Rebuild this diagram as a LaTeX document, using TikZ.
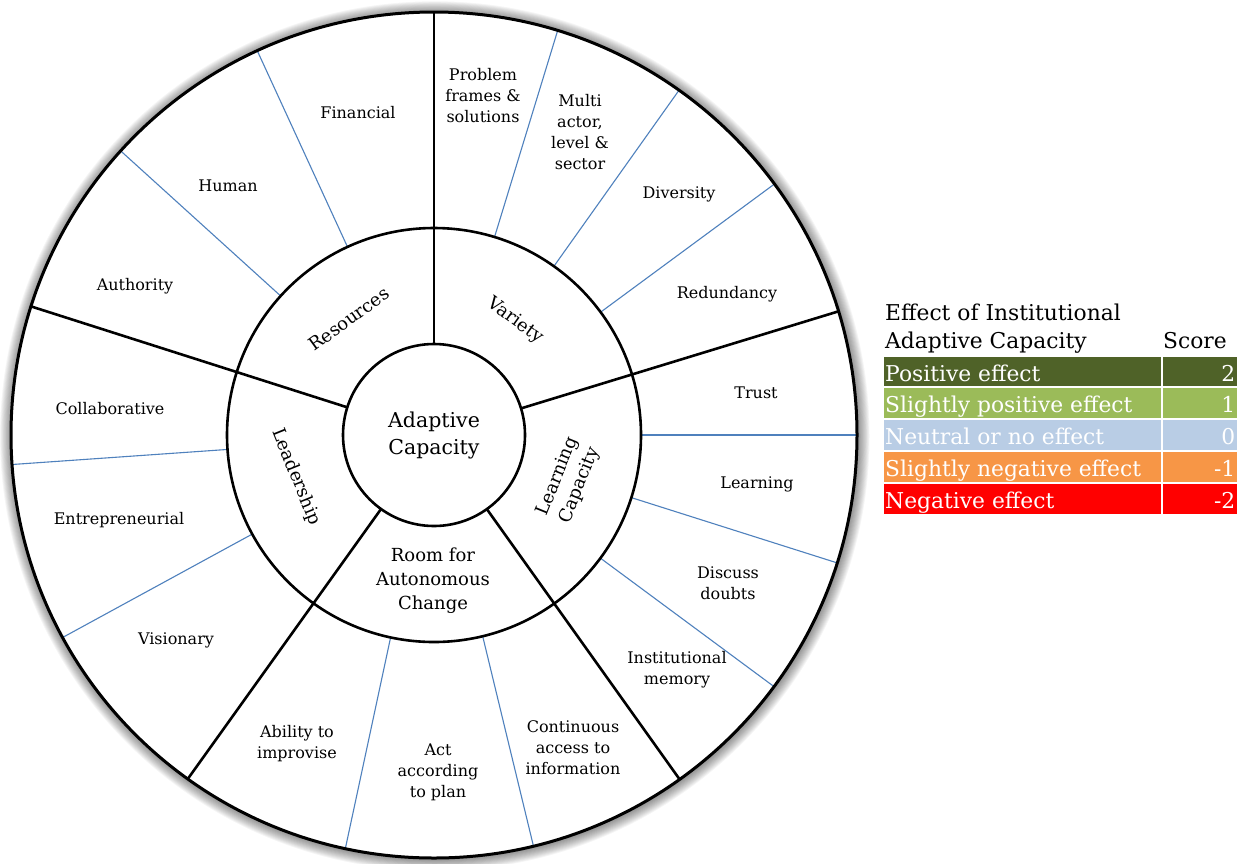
\documentclass[tikz,border=0pt]{standalone}
\usepackage{fontspec}
\setmainfont{DejaVu Serif}
\definecolor{linkblue}{HTML}{4F81BD}
\definecolor{posdark}{HTML}{4F6228}
\definecolor{poslight}{HTML}{9BBB59}
\definecolor{neutralblue}{HTML}{B9CDE5}
\definecolor{negorange}{HTML}{F79646}
\definecolor{negred}{HTML}{FF0000}
\begin{document}
\begin{tikzpicture}[x=1pt,y=1pt,
  divider/.style={line width=2.6pt, black},
  subline/.style={line width=1.1pt, linkblue},
  ring/.style={line width=2.6pt, black},
  outerlbl/.style={font=\fontsize{16}{21}\selectfont, align=center, inner sep=0pt},
  midlbl/.style={font=\fontsize{18}{24}\selectfont, align=center, inner sep=0pt},
  corelbl/.style={font=\fontsize{20.5}{27}\selectfont, align=center},
  legendtxt/.style={font=\fontsize{21.8}{29}\selectfont, inner sep=0pt}
]
\useasboundingbox (0,0) rectangle (1244,-863);
\coordinate (C) at (434,-435);
\def\Rout{423}
\def\Rmid{207}
\def\Rin{91}

% soft shadow around the wheel
\foreach \k in {1,...,13}
  \fill[black, opacity=0.04] (434.8,-436) circle ({\Rout+0.9*\k});
\fill[white] (C) circle (\Rout);

% thin lines splitting each dimension into its criteria
\foreach \a in {73,54.6,36.4,114.7,137.8,184,208.6,257.9,283.6,0,-17.6,-36.5}
  \draw[subline, shift={(C)}] (\a:\Rmid) -- (\a:\Rout);

% thick lines between the five dimensions
\foreach \a in {90,17,-54.5,234.4,162.3}
  \draw[divider, shift={(C)}] (\a:\Rin) -- (\a:\Rout);

% rings
\draw[ring] (C) circle (\Rmid);
\draw[ring, line width=3pt] (C) circle (\Rout);
\node (core) [circle, draw, line width=2.6pt, fill=white, minimum size=182pt,
  inner sep=0pt, corelbl] at (C) {Adaptive\\Capacity};

% dimensions
\node (res) [midlbl, rotate=36] at (349,-319) {Resources};
\node (var) [midlbl, rotate=-36] at (515,-321) {Variety};
\node (lrn) [midlbl, rotate=68] at (569,-481) {Learning\\Capacity};
\node (lead) [midlbl, rotate=-68] at (296,-477) {Leadership};
\node (room) [midlbl] at (433,-581) {Room for\\Autonomous\\Change};

% criteria
\node (fin) [outerlbl] at (358,-113) {Financial};
\node (hum) [outerlbl] at (228,-186) {Human};
\node (auth) [outerlbl] at (135,-286) {Authority};
\node (prob) [outerlbl] at (483,-96) {Problem\\frames \&\\solutions};
\node (multi) [outerlbl] at (580,-132) {Multi\\actor,\\level \&\\sector};
\node (div) [outerlbl] at (679,-194) {Diversity};
\node (red) [outerlbl] at (727,-294) {Redundancy};
\node (trust) [outerlbl] at (756,-393) {Trust};
\node (learn) [outerlbl] at (757,-484) {Learning};
\node (doubt) [outerlbl] at (728,-583) {Discuss\\doubts};
\node (memo) [outerlbl] at (677,-670) {Institutional\\memory};
\node (info) [outerlbl] at (573,-748) {Continuous\\access to\\information};
\node (plan) [outerlbl] at (438,-772) {Act\\according\\to plan};
\node (impr) [outerlbl] at (297,-744) {Ability to\\improvise};
\node (vis) [outerlbl] at (176,-640) {Visionary};
\node (entr) [outerlbl] at (119,-520) {Entrepreneurial};
\node (coll) [outerlbl] at (110,-409) {Collaborative};

% legend
\node (lgtitle1) [legendtxt, anchor=base west] at (885,-320) {Effect of Institutional};
\node (lgtitle2) [legendtxt, anchor=base west] at (885,-348.5) {Adaptive Capacity};
\node (lgscore) [legendtxt, anchor=base west] at (1163,-348.5) {Score};
\foreach \i/\col/\txt/\val in {0/posdark/Positive effect/2,
                               1/poslight/Slightly positive effect/1,
                               2/neutralblue/Neutral or no effect/0,
                               3/negorange/Slightly negative effect/-1,
                               4/negred/Negative effect/-2}{
  \pgfmathsetmacro{\top}{-356.5-31.8*\i}
  \fill[\col] (884,\top) rectangle (1160.5,\top-29.8);
  \fill[\col] (1162.5,\top) rectangle (1236.5,\top-29.8);
  \node (lgrow\i) [legendtxt, text=white, anchor=base west] at (885,\top-24.5) {\txt};
  \node (lgval\i) [legendtxt, text=white, anchor=base east] at (1235.5,\top-24.5) {\val};
}
\end{tikzpicture}
\end{document}
